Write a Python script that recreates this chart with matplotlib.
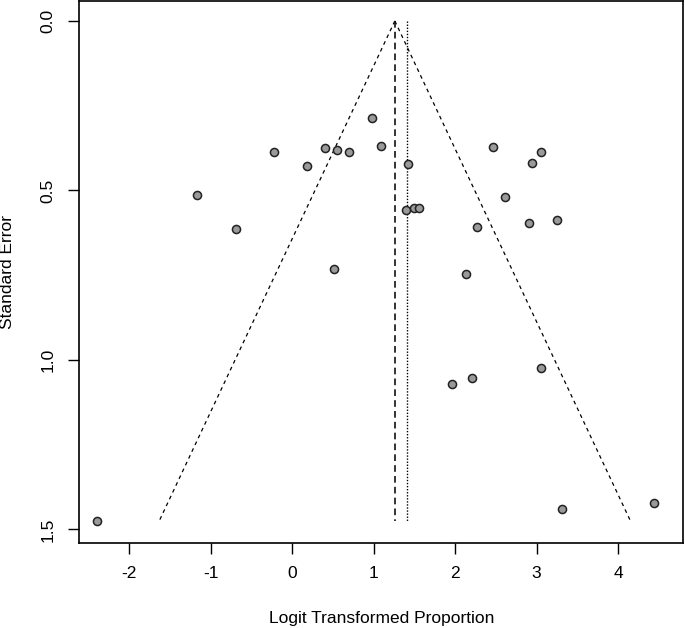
import numpy as np
import matplotlib
matplotlib.use("Agg")
import matplotlib.pyplot as plt

plt.rcParams['font.family'] = ['Liberation Sans', 'DejaVu Sans']

# study estimates (logit proportion) and their standard errors
logit_prop = [0.976, 1.094, -0.220, 0.402, 0.552, 0.702, 0.188, 1.421,
              2.466, 3.051, 2.949, -1.164, 2.617, 1.394, 1.501, 1.560,
              -0.692, 2.273, 2.901, 3.249, 0.515, 2.139, 3.051, 2.204,
              1.957, -2.397, 3.308, 4.434]
std_err = [0.287, 0.368, 0.388, 0.375, 0.382, 0.388, 0.429, 0.422,
           0.371, 0.388, 0.420, 0.514, 0.520, 0.559, 0.553, 0.551,
           0.614, 0.608, 0.596, 0.588, 0.732, 0.748, 1.024, 1.053,
           1.070, 1.476, 1.440, 1.423]

fixed_est = 1.26
random_est = 1.405
se_max = 1.476

x_ticks = [-2, -1, 0, 1, 2, 3, 4]
y_ticks = [0.0, 0.5, 1.0, 1.5]

fig = plt.figure(figsize=(6.85, 6.28), dpi=100)
ax = fig.add_axes([0.1153, 0.136, 0.8825, 0.8625])

# funnel
se_line = np.array([0, se_max])
ax.plot(fixed_est - 1.96 * se_line, se_line, color='black', lw=0.9,
        dashes=(3, 3))
ax.plot(fixed_est + 1.96 * se_line, se_line, color='black', lw=0.9,
        dashes=(3, 3))
ax.plot([fixed_est, fixed_est], [0, se_max], color='#111111', lw=1.2,
        dashes=(4, 2.5))
ax.plot([random_est, random_est], [0, se_max], color='black', lw=1.0,
        dashes=(1, 1.2))

ax.scatter(logit_prop, std_err, s=34, facecolor='#9a9a9a',
           edgecolor='#222222', linewidths=1.1, zorder=3)

ax.set_xlim(-2.616, 4.802)
ax.set_ylim(1.539, -0.059)
ax.set_xticks(x_ticks)
ax.set_xticklabels([str(t) for t in x_ticks])
ax.set_yticks(y_ticks)
ax.set_yticklabels(["%.1f" % t for t in y_ticks], rotation=90, va='center')

ax.tick_params(labelsize=12.5, length=8, width=1, pad=9, colors='black')
for sp in ax.spines.values():
    sp.set_linewidth(1.2)

fig.text(0.5 * (0.1153 + 0.9978), 1 - 619 / 628, "Logit Transformed Proportion",
         fontsize=12.5, ha='center', va='center')
fig.text(8 / 685, 0.136 + 0.8625 / 2, "Standard Error", fontsize=12.5,
         rotation=90, ha='center', va='center')

fig.savefig("out.png", dpi=100)
